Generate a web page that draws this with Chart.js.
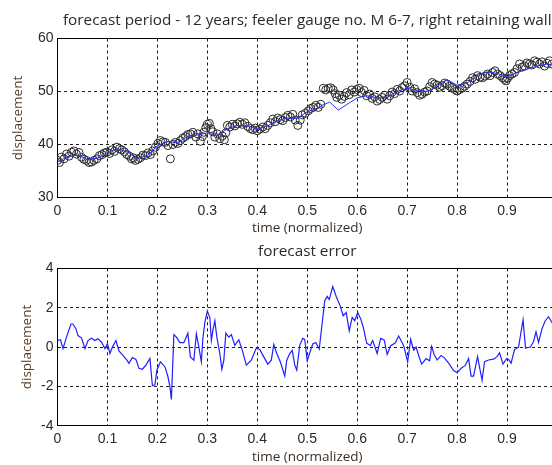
<!DOCTYPE html>
<html>
<head>
    <title>Forecast - feeler gauge M 6-7</title>
    <script src="https://cdn.jsdelivr.net/npm/chart.js"></script>
    <style>
        body { margin: 0; overflow: hidden; background: #fff; width: 552px; height: 465px; position: relative; }
        canvas { position: absolute; left: 0; }
    </style>
</head>
<body>
    <canvas id="topChart" width="580" height="240" style="top:0"></canvas>
    <canvas id="bottomChart" width="580" height="225" style="top:240px"></canvas>
    <script>
        // measured displacement (circles)
        var obsTime = [0, 0.004, 0.008, 0.013, 0.018, 0.023, 0.028, 0.033, 0.038, 0.043,
            0.048, 0.053, 0.058, 0.063, 0.068, 0.073, 0.079, 0.084, 0.089, 0.094,
            0.099, 0.104, 0.109, 0.114, 0.119, 0.124, 0.129, 0.134, 0.139, 0.144,
            0.148, 0.152, 0.156, 0.161, 0.166, 0.171, 0.176, 0.181, 0.186, 0.191,
            0.196, 0.201, 0.206, 0.211, 0.216, 0.221, 0.226, 0.231, 0.236, 0.241,
            0.246, 0.251, 0.256, 0.261, 0.266, 0.271, 0.277, 0.281, 0.286, 0.290,
            0.293, 0.297, 0.300, 0.304, 0.307, 0.311, 0.315, 0.320, 0.325, 0.330,
            0.334, 0.337, 0.340, 0.345, 0.350, 0.355, 0.360, 0.365, 0.370, 0.375,
            0.381, 0.386, 0.391, 0.396, 0.400, 0.405, 0.411, 0.416, 0.421, 0.426,
            0.431, 0.436, 0.441, 0.446, 0.451, 0.456, 0.461, 0.466, 0.471, 0.476,
            0.481, 0.486, 0.490, 0.496, 0.502, 0.507, 0.512, 0.517, 0.522, 0.527,
            0.532, 0.537, 0.542, 0.547, 0.552, 0.556, 0.559, 0.564, 0.569, 0.574,
            0.579, 0.584, 0.589, 0.594, 0.599, 0.604, 0.609, 0.614, 0.619, 0.625,
            0.630, 0.635, 0.640, 0.645, 0.650, 0.655, 0.660, 0.665, 0.670, 0.675,
            0.680, 0.685, 0.690, 0.695, 0.700, 0.705, 0.710, 0.715, 0.720, 0.725,
            0.730, 0.735, 0.740, 0.745, 0.750, 0.755, 0.760, 0.765, 0.770, 0.775,
            0.780, 0.785, 0.790, 0.795, 0.800, 0.805, 0.810, 0.815, 0.820, 0.826,
            0.831, 0.836, 0.841, 0.846, 0.851, 0.856, 0.861, 0.866, 0.871, 0.876,
            0.881, 0.886, 0.891, 0.895, 0.898, 0.901, 0.905, 0.910, 0.915, 0.920,
            0.925, 0.930, 0.935, 0.940, 0.945, 0.950, 0.955, 0.960, 0.965, 0.970,
            0.975, 0.980, 0.985, 0.990];
        var obsValue = [37.0, 36.6, 37.6, 37.3, 38.2, 37.8, 38.55, 38.8, 38.2, 38.5,
            37.6, 37.2, 37.0, 36.6, 36.7, 37.0, 37.3, 37.9, 38.1, 38.4,
            38.55, 38.3, 39.0, 38.7, 39.5, 39.2, 39.0, 38.6, 38.1, 37.8,
            37.3, 37.5, 37.0, 37.2, 37.5, 38.0, 37.9, 38.4, 38.1, 38.8,
            39.5, 40.2, 40.75, 40.5, 40.4, 39.8, 37.3, 40.0, 40.4, 40.2,
            40.75, 41.2, 41.5, 41.9, 42.0, 42.3, 41.4, 42.0, 40.6, 41.5,
            42.3, 43.2, 43.8, 44.0, 43.0, 42.4, 41.4, 42.0, 41.1, 41.6,
            40.9, 42.2, 43.6, 43.3, 43.8, 43.5, 43.9, 44.2, 43.8, 44.1,
            43.4, 43.0, 42.8, 43.1, 42.6, 42.9, 43.3, 43.0, 43.6, 44.1,
            44.8, 44.3, 45.0, 44.7, 44.5, 45.1, 45.5, 45.2, 45.7, 44.6,
            43.6, 44.6, 45.6, 45.9, 46.35, 46.8, 47.0, 47.4, 47.0, 47.6,
            50.6, 50.3, 50.6, 50.7, 50.3, 49.6, 48.9, 49.3, 48.55, 49.1,
            49.8, 49.4, 50.3, 49.9, 50.4, 50.6, 49.8, 50.2, 49.2, 49.5,
            48.7, 49.0, 48.2, 48.5, 48.9, 49.3, 48.55, 49.2, 49.9, 49.6,
            50.4, 50.1, 50.75, 51.1, 51.7, 50.8, 50.1, 50.5, 49.8, 49.3,
            49.5, 49.9, 50.1, 50.9, 51.7, 51.4, 51.2, 50.8, 51.1, 51.6,
            51.4, 51.0, 50.75, 50.4, 50.1, 50.4, 50.6, 51.0, 51.4, 51.9,
            52.6, 52.3, 53.0, 52.7, 52.6, 52.9, 53.3, 53.0, 53.6, 53.9,
            53.3, 53.0, 52.6, 52.3, 52.0, 52.5, 53.0, 53.3, 53.6, 54.3,
            55.2, 54.6, 54.8, 55.4, 55.2, 55.0, 55.8, 55.5, 55.2, 55.6,
            54.8, 55.3, 55.8, 55.2];

        // forecast (blue line)
        var fcTime = [0, 0.02, 0.04, 0.06, 0.08, 0.10, 0.12, 0.14, 0.16, 0.18,
            0.20, 0.22, 0.24, 0.26, 0.28, 0.30, 0.32, 0.34, 0.36, 0.38,
            0.40, 0.42, 0.44, 0.46, 0.48, 0.50, 0.52, 0.53, 0.545, 0.562,
            0.585, 0.60, 0.62, 0.64, 0.66, 0.68, 0.70, 0.72, 0.74, 0.76,
            0.78, 0.80, 0.82, 0.84, 0.86, 0.88, 0.90, 0.92, 0.94, 0.96, 0.98, 0.99];
        var fcValue = [36.7, 37.7, 38.0, 37.2, 37.4, 38.5, 39.2, 38.6, 37.4, 37.9,
            39.8, 40.6, 40.3, 41.5, 41.8, 42.2, 41.6, 43.0, 43.6, 43.5,
            42.9, 43.5, 44.5, 45.0, 44.9, 46.2, 46.8, 47.4, 48.0, 46.5,
            47.9, 48.8, 49.2, 48.8, 48.9, 50.0, 50.6, 50.2, 50.0, 51.0,
            52.2, 51.2, 51.6, 53.0, 53.7, 53.4, 52.8, 53.6, 54.2, 54.8, 55.2, 55.0];

        // forecast error
        var errTime = [0, 0.006, 0.011, 0.018, 0.027, 0.031, 0.037, 0.041, 0.048, 0.055,
            0.061, 0.068, 0.075, 0.081, 0.088, 0.095, 0.100, 0.105, 0.110, 0.117,
            0.123, 0.131, 0.139, 0.143, 0.150, 0.157, 0.163, 0.170, 0.177, 0.185,
            0.190, 0.195, 0.199, 0.206, 0.215, 0.221, 0.225, 0.228, 0.233, 0.238,
            0.245, 0.253, 0.261, 0.266, 0.273, 0.278, 0.283, 0.288, 0.291, 0.295,
            0.300, 0.305, 0.308, 0.311, 0.315, 0.319, 0.325, 0.329, 0.333, 0.337,
            0.343, 0.348, 0.355, 0.363, 0.370, 0.378, 0.388, 0.398, 0.405, 0.413,
            0.421, 0.428, 0.433, 0.439, 0.446, 0.455, 0.459, 0.465, 0.470, 0.475,
            0.479, 0.485, 0.491, 0.495, 0.500, 0.505, 0.511, 0.517, 0.524, 0.529,
            0.535, 0.540, 0.544, 0.551, 0.558, 0.566, 0.572, 0.578, 0.584, 0.590,
            0.595, 0.601, 0.607, 0.612, 0.619, 0.626, 0.631, 0.640, 0.647, 0.654,
            0.660, 0.667, 0.676, 0.683, 0.693, 0.701, 0.707, 0.713, 0.718, 0.723,
            0.729, 0.738, 0.745, 0.749, 0.754, 0.760, 0.768, 0.774, 0.783, 0.793,
            0.800, 0.808, 0.816, 0.823, 0.828, 0.833, 0.841, 0.845, 0.850, 0.855,
            0.863, 0.873, 0.880, 0.885, 0.892, 0.899, 0.903, 0.908, 0.915, 0.923,
            0.927, 0.932, 0.937, 0.947, 0.953, 0.958, 0.963, 0.970, 0.976, 0.983, 0.991];
        var errValue = [0.33, 0.37, -0.08, 0.5, 1.17, 1.17, 0.92, 0.58, 0.47, -0.08,
            0.33, 0.45, 0.33, 0.42, 0.25, -0.08, 0.17, -0.33, 0, 0.33,
            -0.2, -0.42, -0.67, -0.83, -0.53, -0.63, -1.08, -1.13, -0.92, -0.58,
            -1.97, -1.92, -1.17, -0.75, -1.0, -1.5, -2.0, -2.67, 0.63, 0.5,
            0.22, 0.22, 0.7, -0.5, -0.67, 0.67, 0, -0.75, 0.42, 1.25,
            1.83, 1.5, 0.33, 0.83, 1.33, 0.5, -0.33, -1.13, -0.67, 0.7,
            0.5, 0.63, 0.08, 0.37, -0.17, -0.92, -0.67, -0.05, -0.13, -0.5,
            -0.87, -0.67, 0.13, -0.33, -0.75, -1.47, -0.67, -0.33, -0.17, -0.92,
            -1.17, 0.1, 0.44, 0.39, -0.7, -0.3, 0.16, 0.23, -0.1, 1.02,
            2.36, 2.57, 2.41, 3.07, 2.57, 2.08, 1.59, 1.75, 0.82, 1.51,
            1.34, 1.75, 1.43, 1.02, 0.2, 0.07, 0.33, -0.33, 0.44, 0.36,
            -0.38, 0.07, 0.2, 0.56, 0.07, -0.75, 0.39, -0.16, 0, -0.43,
            -0.87, -0.59, -0.7, 0.03, -0.38, -0.66, -0.43, -0.54, -0.82, -1.2,
            -1.31, -1.08, -0.95, -0.59, -1.48, -1.48, -0.49, -1.03, -1.69, -0.75,
            -0.66, -0.62, -0.49, -0.3, -0.87, -0.59, -0.62, -0.82, -0.13, 0,
            0.61, 1.38, -0.05, 0, 0.28, 0.77, 0.23, 0.93, 1.31, 1.54, 1.21];

        var xTickLabels = ['0', '0.1', '0.2', '0.3', '0.4', '0.5', '0.6', '0.7', '0.8', '0.9', ''];
        var yTopTickLabels = ['30', '40', '50', '60'];
        var yBottomTickLabels = ['-4', '-2', '0', '2', '4'];

        var topTitle = 'forecast period - 12 years; feeler gauge no. M 6-7, right retaining wall';
        var bottomTitle = 'forecast error';
        var xTitle = 'time (normalized)';
        var yTitle = 'displacement';

        Chart.defaults.font.family = "'Liberation Sans', Arial, sans-serif";
        Chart.defaults.animation = false;

        function toPoints(xs, ys) {
            return xs.map(function (x, i) { return { x: x, y: ys[i] }; });
        }

        var titleFont = { family: "'Open Sans', sans-serif", size: 15.3, weight: 'normal', lineHeight: 1.1 };
        var axisFont = { family: "'Open Sans', sans-serif", size: 13.5, weight: 'normal', lineHeight: 1.2 };

        function makeScales(opts) {
            return {
                x: {
                    type: 'linear', min: 0, max: 1,
                    afterFit: function (s) { s.height = opts.xHeight; },
                    ticks: {
                        stepSize: 0.1, autoSkip: false, maxRotation: 0, padding: 5,
                        color: '#2a2a2a', font: { size: 14 },
                        callback: function (v, i) { return xTickLabels[i]; }
                    },
                    grid: { color: '#1a1a1a', lineWidth: 1, drawTicks: false },
                    border: { display: true, color: '#000', width: 1, dash: [3, 3] },
                    title: {
                        display: true, text: xTitle, color: '#3a2e24', font: axisFont,
                        padding: { top: 0, bottom: opts.xTitlePad }
                    }
                },
                x2: {
                    type: 'linear', position: 'top', min: 0, max: 1,
                    afterFit: function (s) { s.height = 0; },
                    ticks: { display: false },
                    grid: { display: false, drawTicks: false },
                    border: { display: true, color: '#000', width: 1 }
                },
                y: {
                    type: 'linear', min: opts.yMin, max: opts.yMax,
                    afterFit: function (s) { s.width = 57.5; },
                    ticks: {
                        stepSize: opts.yStep, padding: 4,
                        color: '#2a2a2a', font: { size: 14 },
                        callback: function (v, i) { return opts.yLabels[i]; }
                    },
                    grid: { color: '#1a1a1a', lineWidth: 1, drawTicks: false },
                    border: { display: true, color: '#000', width: 1, dash: [3, 3] },
                    title: {
                        display: true, text: yTitle, color: '#5a3f26', font: axisFont,
                        padding: { top: opts.yTitlePad, bottom: 0 }
                    }
                }
            };
        }

        new Chart(document.getElementById('topChart').getContext('2d'), {
            type: 'scatter',
            data: {
                datasets: [{
                    label: 'forecast',
                    data: toPoints(fcTime, fcValue),
                    showLine: true,
                    borderColor: '#3030ff',
                    borderWidth: 1,
                    pointRadius: 0,
                    tension: 0
                }, {
                    label: 'measured',
                    data: toPoints(obsTime, obsValue),
                    showLine: false,
                    pointStyle: 'circle',
                    pointRadius: 4,
                    borderColor: '#2a2a2a',
                    borderWidth: 1,
                    backgroundColor: 'rgba(0,0,0,0)'
                }]
            },
            options: {
                responsive: false,
                layout: { padding: { left: 0, right: 23, top: 0, bottom: 0 } },
                plugins: {
                    legend: { display: false },
                    tooltip: { enabled: false },
                    title: {
                        display: true, text: topTitle, color: '#2a2a2a', font: titleFont,
                        fullSize: false, padding: { top: 12.4, bottom: 9.3 }
                    }
                },
                scales: makeScales({ yMin: 30, yMax: 60, yStep: 10, yLabels: yTopTickLabels,
                    xHeight: 42.5, xTitlePad: 3.6, yTitlePad: 10.5 })
            }
        });

        new Chart(document.getElementById('bottomChart').getContext('2d'), {
            type: 'scatter',
            data: {
                datasets: [{
                    label: 'forecast error',
                    data: toPoints(errTime, errValue),
                    showLine: true,
                    borderColor: '#1f1fff',
                    borderWidth: 1.2,
                    pointRadius: 0,
                    tension: 0
                }]
            },
            options: {
                responsive: false,
                layout: { padding: { left: 0, right: 23, top: 0, bottom: 0 } },
                plugins: {
                    legend: { display: false },
                    tooltip: { enabled: false },
                    title: {
                        display: true, text: bottomTitle, color: '#2a2a2a', font: titleFont,
                        fullSize: false, padding: { top: 3.4, bottom: 8.1 }
                    }
                },
                scales: makeScales({ yMin: -4, yMax: 4, yStep: 2, yLabels: yBottomTickLabels,
                    xHeight: 39.3, xTitlePad: 0, yTitlePad: 18.6 })
            }
        });
    </script>
</body>
</html>
